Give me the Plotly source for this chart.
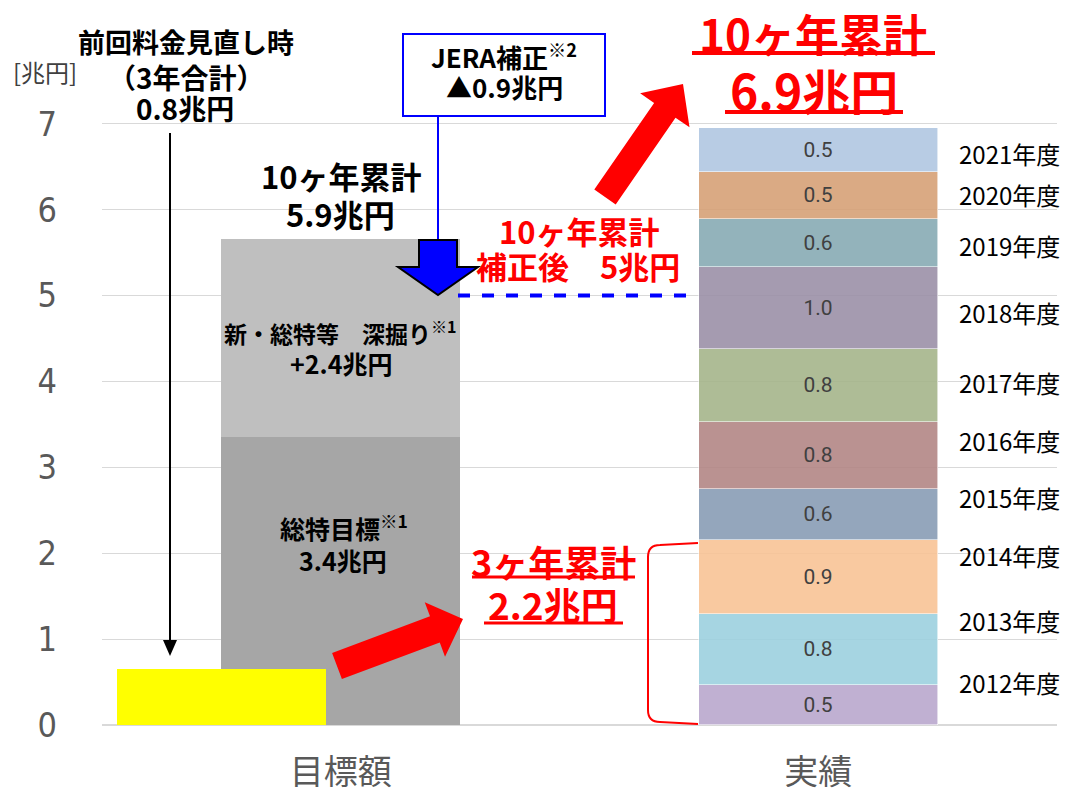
import math
import plotly.graph_objects as go

# ---------------- data ----------------
categories = ["目標額", "実績"]
prev_review_value = 0.65          # 前回料金見直し時（3年合計）
target_base_value = 3.35          # 総特目標
target_deep_value = 2.31          # 新・総特等 深掘り
corrected_total_value = 5.0       # 10ヶ年累計 補正後
years = ["2012年度", "2013年度", "2014年度", "2015年度", "2016年度",
         "2017年度", "2018年度", "2019年度", "2020年度", "2021年度"]
actual_values = [0.47, 0.82, 0.86, 0.60, 0.78, 0.85, 0.95, 0.56, 0.55, 0.51]
actual_labels = ["0.5", "0.8", "0.9", "0.6", "0.8", "0.8", "1.0", "0.6", "0.5", "0.5"]
y_ticks = [0, 1, 2, 3, 4, 5, 6, 7]

# ---------------- styles / layout helpers ----------------
W, H = 1068, 790
ML, MR, MT, MB = 102, 11, 98, 65
PW, PH = W - ML - MR, H - MT - MB
YMAX = 7.3
JP = "Noto Sans CJK JP"

year_colors = ["#C0B0D2", "#A6D5E2", "#F9C9A0", "#94A6BC", "#BA9291",
               "#AEBC96", "#A59BB0", "#93B3BB", "#DAAA84", "#B8CCE4"]
year_label_py = [682, 620, 555, 498, 440, 382, 312, 245, 195, 153]


def rgba(hexc, a=0.88):
    r, g, b = (int(hexc[i:i + 2], 16) for i in (1, 3, 5))
    f = lambda d: max(0, min(255, round((d - (1 - a) * 255) / a)))
    return f"rgba({f(r)},{f(g)},{f(b)},{a})"


def P(px, py):
    return ((px - ML) / PW, (MT + PH - py) / PH)


def path_of(points, close=True):
    s = "M " + " L ".join(f"{P(x, y)[0]:.5f},{P(x, y)[1]:.5f}" for x, y in points)
    return s + (" Z" if close else "")


def block_arrow(tail, tip, sw, hw, hl):
    tx, ty = tail
    hx, hy = tip
    dx, dy = hx - tx, hy - ty
    L = math.hypot(dx, dy)
    ux, uy = dx / L, dy / L
    nx, ny = -uy, ux
    bx, by = hx - ux * hl, hy - uy * hl
    pts = [(tx + nx * sw / 2, ty + ny * sw / 2), (bx + nx * sw / 2, by + ny * sw / 2),
           (bx + nx * hw / 2, by + ny * hw / 2), (hx, hy),
           (bx - nx * hw / 2, by - ny * hw / 2), (bx - nx * sw / 2, by - ny * sw / 2),
           (tx - nx * sw / 2, ty - ny * sw / 2)]
    return path_of(pts)


fig = go.Figure()

# target bars
fig.add_trace(go.Bar(x=[0], y=[target_base_value], width=0.5,
                     marker=dict(color="#A6A6A6", line=dict(width=0)), hoverinfo="skip"))
fig.add_trace(go.Bar(x=[0], y=[target_deep_value], width=0.5,
                     marker=dict(color="#BFBFBF", line=dict(width=0)), hoverinfo="skip"))
# actual stacked bars
for yr, v, lab, c in zip(years, actual_values, actual_labels, year_colors):
    fig.add_trace(go.Bar(x=[1], y=[v], width=0.5, name=yr, text=[lab],
                         textposition="inside", insidetextanchor="middle", textangle=0,
                         textfont=dict(color="#404040", size=21, family="Roboto, " + JP),
                         marker=dict(color=rgba(c), line=dict(width=0.8, color="rgba(255,255,255,0.7)")),
                         hoverinfo="skip"))
# previous review (yellow) on top
fig.add_trace(go.Bar(x=[-0.25], y=[prev_review_value], width=0.437,
                     marker=dict(color="#FFFF00", line=dict(width=0)), hoverinfo="skip"))

shapes = []
ann = []


def txt(px, py, s, size, color="#000000", bold=True, xanchor="center", family=JP):
    x, y = P(px, py)
    ann.append(dict(x=x, y=y, xref="paper", yref="paper", text=(f"<b>{s}</b>" if bold else s),
                    showarrow=False, xanchor=xanchor, yanchor="middle",
                    font=dict(size=size, color=color, family=family)))


# year labels
for yr, py in zip(years, year_label_py):
    txt(957, py, yr, 24, "#000000", bold=False, xanchor="left")

# unit
txt(45, 72, "[兆円]", 24, "#404040", bold=False)

# previous review label + black arrow
txt(186, 42, "前回料金見直し時", 27)
txt(186, 77, "（3年合計）", 28)
txt(185, 108, "0.8兆円", 28)
x0, y0 = P(170, 133)
x1, y1 = P(170, 645)
shapes.append(dict(type="line", xref="paper", yref="paper", x0=x0, y0=y0, x1=x1, y1=y1,
                   line=dict(color="#000000", width=2)))
shapes.append(dict(type="path", xref="paper", yref="paper",
                   path=path_of([(163, 640), (177, 640), (170, 656)]),
                   fillcolor="#000000", line=dict(width=0)))

# target texts
txt(341, 175, "10ヶ年累計", 31)
txt(340, 213, "5.9兆円", 31)
txt(340, 332, "新・総特等　深掘り<sup>※1</sup>", 23)
txt(341, 363, "+2.4兆円", 25)
txt(344, 527, "総特目標<sup>※1</sup>", 25)
txt(343, 560, "3.4兆円", 25)

# JERA box
bx0, by0 = P(403, 116)
bx1, by1 = P(605, 34)
shapes.append(dict(type="rect", xref="paper", yref="paper", x0=bx0, y0=by0, x1=bx1, y1=by1,
                   fillcolor="#FFFFFF", line=dict(color="#0000FF", width=2)))
txt(504, 55, "JERA補正<sup>※2</sup>", 26)
txt(504, 87, "▲0.9兆円", 26)
lx0, ly0 = P(438, 116)
lx1, ly1 = P(438, 240)
shapes.append(dict(type="line", xref="paper", yref="paper", x0=lx0, y0=ly0, x1=lx1, y1=ly1,
                   line=dict(color="#0000FF", width=2)))
shapes.append(dict(type="path", xref="paper", yref="paper",
                   path=block_arrow((438, 240), (438, 295), 38, 80, 28),
                   fillcolor="#0000FF", line=dict(color="#000000", width=2)))

# dashed corrected line at 5.0
dx0, _ = P(458, 0)
dx1, _ = P(698, 0)
shapes.append(dict(type="line", xref="paper", yref="y", x0=dx0, x1=dx1,
                   y0=corrected_total_value, y1=corrected_total_value,
                   line=dict(color="#0000FF", width=4, dash="dash")))
txt(579, 230, "10ヶ年累計", 31, "#FF0000")
txt(578, 265, "補正後　5兆円", 31, "#FF0000")

# big red arrow up + big total
shapes.append(dict(type="path", xref="paper", yref="paper",
                   path=block_arrow((605, 197), (683, 84), 26, 60, 32),
                   fillcolor="#FF0000", line=dict(width=0)))
txt(813, 33, "10ヶ年累計", 44, "#FF0000")
txt(814, 89, "6.9兆円", 48, "#FF0000")
for (ux0, ux1, uy, w) in [(692, 935, 53, 4), (725, 903, 112, 4)]:
    a0, b0 = P(ux0, uy)
    a1, _ = P(ux1, uy)
    shapes.append(dict(type="line", xref="paper", yref="paper", x0=a0, x1=a1, y0=b0, y1=b0,
                       line=dict(color="#FF0000", width=w)))

# small red arrow + 3-year total
shapes.append(dict(type="path", xref="paper", yref="paper",
                   path=block_arrow((337, 666), (463, 619), 28, 58, 30),
                   fillcolor="#FF0000", line=dict(width=0)))
txt(553, 561, "3ヶ年累計", 36, "#FF0000")
txt(553, 604, "2.2兆円", 37, "#FF0000")
for (ux0, ux1, uy, w) in [(472, 635, 577, 3), (484, 623, 623, 3)]:
    a0, b0 = P(ux0, uy)
    a1, _ = P(ux1, uy)
    shapes.append(dict(type="line", xref="paper", yref="paper", x0=a0, x1=a1, y0=b0, y1=b0,
                       line=dict(color="#FF0000", width=w)))

# red bracket
def pp(x, y):
    a, b = P(x, y)
    return f"{a:.5f},{b:.5f}"

bracket = (f"M {pp(698, 543)} L {pp(660, 545)} Q {pp(648, 545)} {pp(648, 557)} "
           f"L {pp(648, 710)} Q {pp(648, 722)} {pp(660, 722)} L {pp(698, 724)}")
shapes.append(dict(type="path", xref="paper", yref="paper", path=bracket,
                   line=dict(color="#FF0000", width=2)))

fig.update_layout(
    width=W, height=H,
    margin=dict(l=ML, r=MR, t=MT, b=MB, autoexpand=False),
    paper_bgcolor="#FFFFFF", plot_bgcolor="#FFFFFF",
    barmode="stack", bargap=0, showlegend=False,
    shapes=shapes, annotations=ann,
    xaxis=dict(range=[-0.5, 1.5], tickvals=[0, 1], ticktext=categories,
               tickfont=dict(size=34, color="#595959", family=JP),
               showgrid=False, zeroline=False, showline=False, ticks="",
               ticklabelstandoff=24, fixedrange=True, automargin=False),
    yaxis=dict(range=[0, YMAX], tickvals=y_ticks, ticktext=[str(t) for t in y_ticks],
               tickfont=dict(size=34, color="#595959",
                             family="Liberation Sans Narrow, DejaVu Sans Condensed, Roboto"),
               showgrid=True, gridcolor="#D9D9D9", gridwidth=1,
               zeroline=True, zerolinecolor="#D9D9D9", zerolinewidth=2,
               showline=False, ticks="", ticklabelstandoff=44, fixedrange=True,
               automargin=False),
)

fig.write_html("out.html", config={"displayModeBar": False},
               post_script="document.body.style.margin='0';document.body.style.overflow='hidden';")
